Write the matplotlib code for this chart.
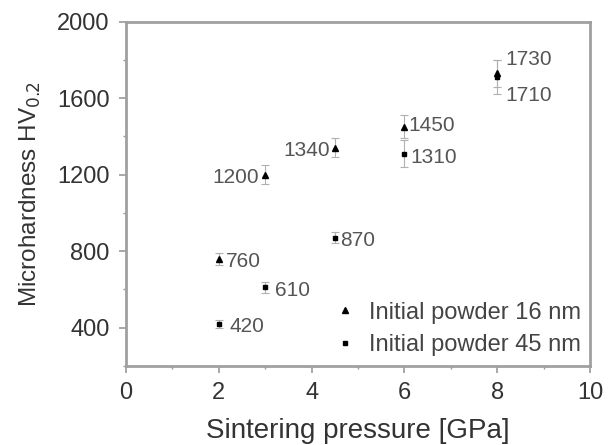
import matplotlib.pyplot as plt
from matplotlib.ticker import MultipleLocator

plt.rcParams['font.family'] = ['Liberation Sans', 'DejaVu Sans']

# Data: initial powder 16 nm (triangles) and 45 nm (squares)
p16 = [2, 3, 4.5, 6, 8]
hv16 = [760, 1200, 1340, 1450, 1730]
err16 = [30, 50, 50, 60, 70]

p45 = [2, 3, 4.5, 6, 8]
hv45 = [420, 610, 870, 1310, 1710]
err45 = [20, 30, 30, 70, 90]

labels16 = ['760', '1200', '1340', '1450', '1730']
labels45 = ['420', '610', '870', '1310', '1710']

fig = plt.figure(figsize=(6.09, 4.45), dpi=100)
ax = fig.add_axes([0.207, 0.178, 0.762, 0.773])

ax.errorbar(p16, hv16, yerr=err16, fmt='none', ecolor='#b0b0b0',
            elinewidth=0.8, capsize=3, capthick=0.8)
ax.errorbar(p45, hv45, yerr=err45, fmt='none', ecolor='#b0b0b0',
            elinewidth=0.8, capsize=3, capthick=0.8)
ax.plot(p16, hv16, '^', color='black', ms=4.5, label='Initial powder 16 nm')
ax.plot(p45, hv45, 's', color='black', ms=3.5, label='Initial powder 45 nm')

# value labels (offsets in points)
off16 = [(5, -6), (-38, -6), (-37, -6), (3, -3), (6, 6)]
off45 = [(8, -6), (7, -6), (4, -6), (4, -7), (6, -17)]
for x, y, t, o in zip(p16, hv16, labels16, off16):
    ax.annotate(t, (x, y), xytext=o, textcoords='offset points',
                fontsize=15, color='#555555')
for x, y, t, o in zip(p45, hv45, labels45, off45):
    ax.annotate(t, (x, y), xytext=o, textcoords='offset points',
                fontsize=15, color='#555555')

ax.set_xlim(0, 10)
ax.set_ylim(200, 2000)
ax.xaxis.set_major_locator(MultipleLocator(2))
ax.xaxis.set_minor_locator(MultipleLocator(1))
ax.yaxis.set_major_locator(MultipleLocator(400))
ax.yaxis.set_minor_locator(MultipleLocator(200))
ax.set_yticks([400, 800, 1200, 1600, 2000])

for s in ax.spines.values():
    s.set_color('#a0a0a0')
    s.set_linewidth(2)
ax.tick_params(which='both', direction='out', colors='#999999',
               labelcolor='#333333', labelsize=17, pad=7)
ax.tick_params(which='major', length=5, width=1.2)
ax.tick_params(which='minor', length=2.5, width=1)

ax.set_xlabel('Sintering pressure [GPa]', fontsize=20, color='#333333',
              labelpad=10)
ax.set_ylabel('Microhardness HV$_{0.2}$', fontsize=17.5, color='#333333',
              labelpad=10)

ax.legend(loc='lower right', frameon=False, fontsize=17, handlelength=1,
          handletextpad=0.5, labelcolor='#444444', borderaxespad=0.0,
          labelspacing=0.45)

fig.savefig('out.png', dpi=100)
